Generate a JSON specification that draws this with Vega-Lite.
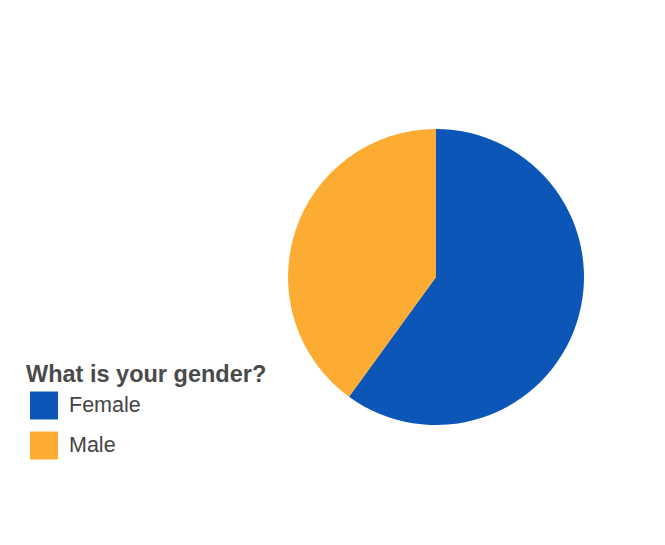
{
  "$schema": "https://vega.github.io/schema/vega-lite/v6.json",
  "autosize": {"type": "none"},
  "padding": {"left": 288, "top": 129, "right": 81, "bottom": 120},
  "width": 296,
  "height": 296,
  "background": "white",
  "data": {"values": [
    {"gender": "Female", "count": 60},
    {"gender": "Male", "count": 40}
  ]},
  "mark": {"type": "arc", "outerRadius": 148, "strokeWidth": 0},
  "encoding": {
    "theta": {"field": "count", "type": "quantitative", "stack": true},
    "color": {
      "field": "gender",
      "type": "nominal",
      "scale": {"domain": ["Female", "Male"], "range": ["#0c56b8", "#fcac33"]},
      "legend": {
        "title": "What is your gender?",
        "orient": "none",
        "legendX": -262,
        "legendY": 234,
        "padding": 0,
        "titleFont": "Liberation Sans",
        "titleFontSize": 23.5,
        "titleFontWeight": "bold",
        "titleColor": "#4a4a4a",
        "titlePadding": 5,
        "titleLimit": 600,
        "labelFont": "Liberation Sans",
        "labelFontSize": 21.5,
        "labelColor": "#444444",
        "labelOffset": 11,
        "labelLimit": 400,
        "symbolType": "square",
        "symbolSize": 784,
        "symbolStrokeWidth": 0,
        "symbolOffset": 4,
        "rowPadding": 12
      }
    }
  },
  "config": {"view": {"stroke": null}}
}
